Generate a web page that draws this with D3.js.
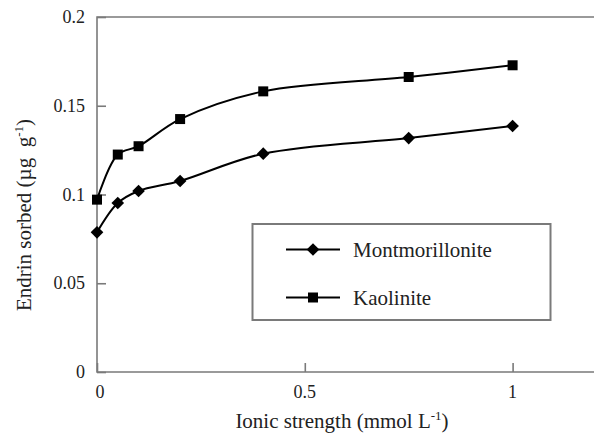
<!DOCTYPE html>
<html>
<head>
<meta charset="utf-8">
<script src="https://cdn.jsdelivr.net/npm/d3@7"></script>
<style>
  html, body { margin: 0; padding: 0; background: #fff; }
</style>
</head>
<body>
<svg id="chart" width="594" height="433"></svg>
<script>
// ionic strength (mmol/L)
const ionic = [0, 0.05, 0.1, 0.2, 0.4, 0.75, 1.0];
const montmorillonite = [0.0787, 0.0952, 0.1020, 0.1076, 0.1230, 0.1318, 0.1386];
const kaolinite = [0.0971, 0.1225, 0.1272, 0.1425, 0.1581, 0.1662, 0.1728];
const seriesNames = ['Montmorillonite', 'Kaolinite'];
const yTicks = [0, 0.05, 0.1, 0.15, 0.2];
const xTicks = [0, 0.5, 1];

const FONT = 'Liberation Serif';

const svg = d3.select('#chart');
const margin = { left: 97, top: 17, bottom: 61 };
const plotH = 433 - margin.top - margin.bottom;
const unit = 415.6; // px per 1 mmol/L

const x = d3.scaleLinear().domain([0, 1.2]).range([margin.left, margin.left + 1.2 * unit]);
const y = d3.scaleLinear().domain([0, 0.2]).range([margin.top + plotH, margin.top]);

const axisColor = '#7a7a7a';

// frame (left, top, bottom)
svg.append('path')
  .attr('d', `M${x(1.2)},${y(0.2)}H${x(0)}V${y(0)}H${x(1.2)}`)
  .attr('fill', 'none')
  .attr('stroke', axisColor)
  .attr('stroke-width', 1.6);

// y axis ticks (inward)
const yAxis = svg.append('g')
  .attr('transform', `translate(${x(0)},0)`)
  .call(d3.axisRight(y).tickValues(yTicks).tickSize(9).tickFormat(''));
yAxis.select('.domain').remove();
yAxis.selectAll('line').attr('stroke', axisColor).attr('stroke-width', 1.6);

svg.append('g').selectAll('text')
  .data(yTicks)
  .join('text')
  .attr('x', 85)
  .attr('y', d => y(d) + 6)
  .attr('text-anchor', 'end')
  .attr('font-family', FONT)
  .attr('font-size', 18)
  .attr('fill', '#222')
  .text(d => d);

// x axis ticks (inward)
const xAxis = svg.append('g')
  .attr('transform', `translate(0,${y(0)})`)
  .call(d3.axisTop(x).tickValues(xTicks).tickSize(9).tickFormat(''));
xAxis.select('.domain').remove();
xAxis.selectAll('line').attr('stroke', axisColor).attr('stroke-width', 1.6);

svg.append('g').selectAll('text')
  .data(xTicks)
  .join('text')
  .attr('x', d => x(d) + (d === 0 ? 3 : 0))
  .attr('y', 398)
  .attr('text-anchor', 'middle')
  .attr('font-family', FONT)
  .attr('font-size', 18)
  .attr('fill', '#222')
  .text(d => d);

// axis titles
const xt = svg.append('text')
  .attr('x', 342)
  .attr('y', 428)
  .attr('text-anchor', 'middle')
  .attr('font-family', FONT)
  .attr('font-size', 21)
  .attr('fill', '#222');
xt.append('tspan').text('Ionic strength (mmol L');
xt.append('tspan').attr('font-size', 13).attr('dy', -8).text('-1');
xt.append('tspan').attr('dy', 8).text(')');

const yt = svg.append('text')
  .attr('transform', 'translate(31,215) rotate(-90)')
  .attr('text-anchor', 'middle')
  .attr('font-family', FONT)
  .attr('font-size', 21)
  .attr('fill', '#222');
yt.append('tspan').text('Endrin sorbed (\u00b5g\u00a0 g');
yt.append('tspan').attr('font-size', 13).attr('dy', -8).text('-1');
yt.append('tspan').attr('dy', 8).text(')');

// series
const line = d3.line()
  .x(d => x(d[0]))
  .y(d => y(d[1]))
  .curve(d3.curveCatmullRom.alpha(0.5));

const diamond = d3.symbol().type(d3.symbolSquare).size(80);
const square = d3.symbol().type(d3.symbolSquare).size(100);

const series = [
  { name: seriesNames[0], values: montmorillonite, marker: diamond, rot: 45 },
  { name: seriesNames[1], values: kaolinite, marker: square, rot: 0 }
];

series.forEach(s => {
  const pts = ionic.map((v, i) => [v, s.values[i]]);
  svg.append('path')
    .attr('d', line(pts))
    .attr('fill', 'none')
    .attr('stroke', '#000')
    .attr('stroke-width', 2);
  svg.append('g').selectAll('path')
    .data(pts)
    .join('path')
    .attr('d', s.marker)
    .attr('transform', d => `translate(${x(d[0])},${y(d[1])}) rotate(${s.rot})`)
    .attr('fill', '#000');
});

// legend
const legend = svg.append('g');
legend.append('rect')
  .attr('x', 252.5)
  .attr('y', 224)
  .attr('width', 298)
  .attr('height', 96)
  .attr('fill', '#fff')
  .attr('stroke', axisColor)
  .attr('stroke-width', 2);

const legendY = [249.5, 297.5];
series.forEach((s, i) => {
  const g = legend.append('g').attr('transform', `translate(0,${legendY[i]})`);
  g.append('line')
    .attr('x1', 286).attr('x2', 340)
    .attr('stroke', '#000').attr('stroke-width', 2);
  g.append('path')
    .attr('d', s.marker)
    .attr('transform', `translate(313,0) rotate(${s.rot})`)
    .attr('fill', '#000');
  g.append('text')
    .attr('x', 353)
    .attr('y', 7)
    .attr('font-family', FONT)
    .attr('font-size', 21)
    .attr('fill', '#222')
    .text(s.name);
});
</script>
</body>
</html>
